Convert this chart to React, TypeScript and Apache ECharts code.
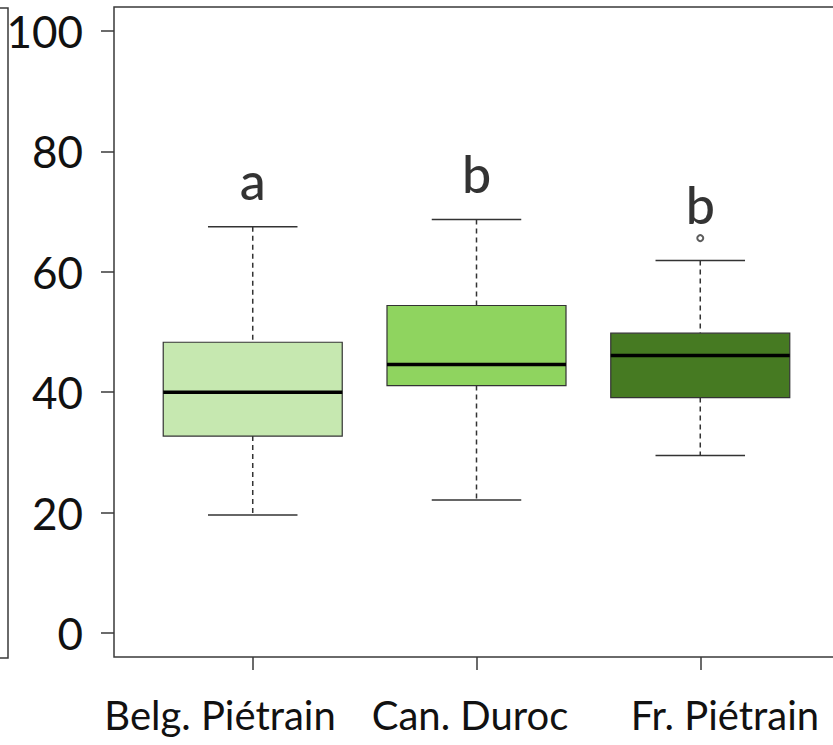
import React, { useEffect, useRef } from "react";
import * as echarts from "echarts";

const categories = ["Belg. Piétrain", "Can. Duroc", "Fr. Piétrain"];
// [min, Q1, median, Q3, max]
const belgStats = [19.6, 32.7, 40.0, 48.3, 67.5];
const canStats = [22.1, 41.1, 44.6, 54.4, 68.7];
const frStats = [29.5, 39.1, 46.1, 49.8, 61.9];
const outliers = [[3, 65.6]];
const letters = ["a", "b", "b"];
const letterY = [75.3, 76.4, 71.3];
const boxColors = ["#c6e8b0", "#8fd45f", "#467a22"];
const yTicks = [0, 20, 40, 60, 80, 100];
const xTicks = [1, 2, 3];
const labelAnchors = [0.854, 1.971, 3.11];

export default function App() {
  const ref = useRef<HTMLDivElement>(null);
  useEffect(() => {
    if (!ref.current) return;
    const chart = echarts.init(ref.current, null, { renderer: "svg" });
    const stats = [belgStats, canStats, frStats];
    const boxData = stats.map((s, i) => [i + 1, ...s]);
    const letterData = letters.map((l, i) => [i + 1, letterY[i]]);
    const font = "Lato, 'Open Sans', sans-serif";
    chart.setOption({
      animation: false,
      grid: {
        left: 114,
        top: 7,
        bottom: 88,
        right: 0,
        show: true,
        borderColor: "#3a3a3a",
        borderWidth: 1.5,
        backgroundColor: "transparent",
      },
      xAxis: {
        type: "value",
        min: 0.38,
        max: 3.62,
        splitLine: { show: false },
        axisLine: { show: false, onZero: false },
        axisTick: {
          show: true,
          length: 13,
          customValues: xTicks,
          lineStyle: { color: "#3a3a3a", width: 1.5 },
        },
        axisLabel: {
          customValues: labelAnchors,
          formatter: (v: number) => {
            const i = labelAnchors.findIndex((a) => Math.abs(a - v) < 1e-6);
            return i >= 0 ? categories[i] : "";
          },
          fontFamily: font,
          fontSize: 40,
          color: "#111",
          margin: 38,
        },
      },
      yAxis: {
        type: "value",
        min: -4,
        max: 104,
        splitLine: { show: false },
        axisLine: { show: false, onZero: false },
        axisTick: {
          show: true,
          length: 13,
          customValues: yTicks,
          lineStyle: { color: "#3a3a3a", width: 1.5 },
        },
        axisLabel: {
          customValues: yTicks,
          fontFamily: font,
          fontSize: 44,
          color: "#111",
          margin: 31,
        },
      },
      graphic: [
        {
          type: "polyline",
          shape: { points: [[0, 8], [8, 8], [8, 658], [0, 658]] },
          style: { stroke: "#3a3a3a", lineWidth: 1.5, fill: "none" },
        },
      ],
      series: [
        {
          type: "custom",
          data: boxData,
          encode: { x: 0, y: [1, 2, 3, 4, 5] },
          renderItem: (params: any, api: any) => {
            const x = api.value(0);
            const pMin = api.coord([x, api.value(1)]);
            const pQ1 = api.coord([x, api.value(2)]);
            const pMed = api.coord([x, api.value(3)]);
            const pQ3 = api.coord([x, api.value(4)]);
            const pMax = api.coord([x, api.value(5)]);
            const bw = api.size([0.8, 0])[0];
            const half = bw / 2;
            const cap = bw / 4;
            const cx = pMed[0];
            const whisk = { stroke: "#333", lineWidth: 1.5, lineDash: [5, 4] };
            const solid = { stroke: "#333", lineWidth: 1.5 };
            return {
              type: "group",
              children: [
                { type: "line", shape: { x1: cx, y1: pMax[1], x2: cx, y2: pQ3[1] }, style: whisk },
                { type: "line", shape: { x1: cx, y1: pQ1[1], x2: cx, y2: pMin[1] }, style: whisk },
                { type: "line", shape: { x1: cx - cap, y1: pMax[1], x2: cx + cap, y2: pMax[1] }, style: solid },
                { type: "line", shape: { x1: cx - cap, y1: pMin[1], x2: cx + cap, y2: pMin[1] }, style: solid },
                {
                  type: "rect",
                  shape: { x: cx - half, y: pQ3[1], width: bw, height: pQ1[1] - pQ3[1] },
                  style: { fill: boxColors[params.dataIndex], stroke: "#333", lineWidth: 1.2 },
                },
                { type: "line", shape: { x1: cx - half, y1: pMed[1], x2: cx + half, y2: pMed[1] }, style: { stroke: "#000", lineWidth: 3.5 } },
              ],
            };
          },
          z: 2,
        },
        {
          type: "scatter",
          data: outliers,
          symbol: "emptyCircle",
          symbolSize: 6,
          itemStyle: { color: "#333", borderColor: "#333", borderWidth: 1.2 },
          z: 3,
        },
        {
          type: "scatter",
          data: letterData,
          symbolSize: 1,
          itemStyle: { color: "transparent" },
          label: {
            show: true,
            position: "inside",
            formatter: (p: any) => letters[p.dataIndex],
            fontFamily: font,
            fontSize: 52,
            fontWeight: 500,
            color: "#000",
          },
          z: 4,
        },
      ],
    });
    return () => chart.dispose();
  }, []);
  return (
    <div
      ref={ref}
      style={{ position: "fixed", left: 0, top: 0, width: 839, height: 745, background: "#fff" }}
    />
  );
}
